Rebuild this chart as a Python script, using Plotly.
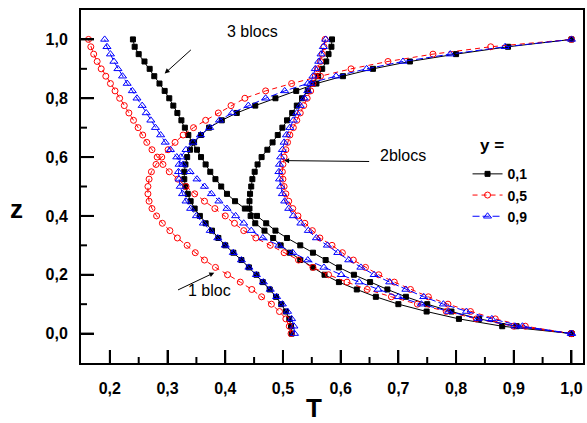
import plotly.graph_objects as go

# ---------------- data ----------------
z = [0.0, 0.025, 0.05, 0.075, 0.1, 0.125, 0.15, 0.175, 0.2, 0.225,
     0.25, 0.275, 0.3, 0.325, 0.35, 0.375, 0.4, 0.425, 0.45, 0.475,
     0.5, 0.525, 0.55, 0.575, 0.6, 0.625, 0.65, 0.675, 0.7, 0.725,
     0.75, 0.775, 0.8, 0.825, 0.85, 0.875, 0.9, 0.925, 0.95, 0.975, 1.0]

# 1 bloc
T_1bloc_y01 = [0.515, 0.514, 0.511, 0.505, 0.497, 0.488, 0.477, 0.465, 0.454, 0.441,
               0.428, 0.414, 0.400, 0.388, 0.377, 0.366, 0.356, 0.347, 0.340, 0.335,
               0.331, 0.329, 0.329, 0.331, 0.334, 0.339, 0.346, 0.358, 0.372, 0.394,
               0.420, 0.452, 0.487, 0.523, 0.558, 0.604, 0.656, 0.720, 0.800, 0.890, 1.000]
T_1bloc_y05 = [0.514, 0.511, 0.505, 0.494, 0.480, 0.463, 0.446, 0.426, 0.404, 0.383,
               0.364, 0.348, 0.334, 0.317, 0.304, 0.291, 0.281, 0.273, 0.268, 0.266,
               0.266, 0.268, 0.272, 0.280, 0.290, 0.301, 0.313, 0.327, 0.345, 0.366,
               0.388, 0.410, 0.434, 0.470, 0.515, 0.565, 0.618, 0.682, 0.760, 0.860, 1.000]
T_1bloc_y09 = [0.520, 0.519, 0.515, 0.508, 0.499, 0.489, 0.478, 0.466, 0.454, 0.441,
               0.428, 0.414, 0.400, 0.387, 0.374, 0.362, 0.350, 0.340, 0.332, 0.326,
               0.322, 0.320, 0.319, 0.320, 0.323, 0.332, 0.344, 0.357, 0.373, 0.390,
               0.412, 0.440, 0.470, 0.503, 0.543, 0.592, 0.645, 0.708, 0.790, 0.885, 1.000]

# 2 blocs
T_2blocs_y01 = [1.000, 0.880, 0.805, 0.749, 0.700, 0.661, 0.628, 0.597, 0.572, 0.552,
                0.530, 0.512, 0.496, 0.483, 0.468, 0.452, 0.444, 0.442, 0.442, 0.443,
                0.445, 0.447, 0.451, 0.456, 0.463, 0.473, 0.482, 0.491, 0.499, 0.507,
                0.516, 0.524, 0.533, 0.543, 0.552, 0.561, 0.568, 0.575, 0.579, 0.584, 0.585]
T_2blocs_y05 = [1.000, 0.920, 0.868, 0.825, 0.786, 0.752, 0.721, 0.693, 0.666, 0.643,
                0.622, 0.603, 0.585, 0.564, 0.551, 0.538, 0.526, 0.517, 0.510, 0.505,
                0.502, 0.500, 0.499, 0.500, 0.502, 0.505, 0.508, 0.512, 0.518, 0.524,
                0.530, 0.536, 0.542, 0.548, 0.552, 0.556, 0.560, 0.565, 0.568, 0.571, 0.573]
T_2blocs_y09 = [1.000, 0.915, 0.862, 0.818, 0.778, 0.744, 0.713, 0.685, 0.658, 0.635,
                0.614, 0.595, 0.577, 0.558, 0.544, 0.531, 0.518, 0.510, 0.503, 0.499,
                0.496, 0.494, 0.493, 0.494, 0.496, 0.499, 0.502, 0.506, 0.512, 0.518,
                0.524, 0.530, 0.537, 0.543, 0.548, 0.552, 0.556, 0.562, 0.566, 0.570, 0.574]

# 3 blocs
T_3blocs_y01 = [1.000, 0.905, 0.840, 0.792, 0.750, 0.713, 0.681, 0.651, 0.623, 0.597,
                0.574, 0.552, 0.530, 0.507, 0.487, 0.471, 0.455, 0.434, 0.417, 0.403,
                0.393, 0.383, 0.374, 0.366, 0.358, 0.351, 0.343, 0.336, 0.330, 0.324,
                0.317, 0.310, 0.303, 0.295, 0.286, 0.277, 0.269, 0.260, 0.250, 0.243, 0.240]
T_3blocs_y05 = [1.000, 0.900, 0.835, 0.783, 0.733, 0.688, 0.646, 0.611, 0.579, 0.552,
                0.527, 0.502, 0.478, 0.453, 0.432, 0.416, 0.400, 0.382, 0.364, 0.347,
                0.332, 0.318, 0.303, 0.292, 0.282, 0.273, 0.264, 0.257, 0.249, 0.241,
                0.233, 0.225, 0.217, 0.209, 0.201, 0.193, 0.185, 0.178, 0.172, 0.167, 0.163]
T_3blocs_y09 = [1.000, 0.902, 0.838, 0.787, 0.740, 0.700, 0.665, 0.632, 0.601, 0.571,
                0.543, 0.517, 0.493, 0.465, 0.445, 0.432, 0.418, 0.403, 0.389, 0.376,
                0.364, 0.351, 0.339, 0.327, 0.316, 0.305, 0.296, 0.288, 0.279, 0.271,
                0.263, 0.256, 0.247, 0.239, 0.230, 0.222, 0.214, 0.207, 0.201, 0.195, 0.191]

series_names = ["0,1", "0,5", "0,9"]

# tick positions
x_major_ticks = [0.2, 0.3, 0.4, 0.5, 0.6, 0.7, 0.8, 0.9, 1.0]
x_minor_ticks = [0.25, 0.35, 0.45, 0.55, 0.65, 0.75, 0.85, 0.95]
y_major_ticks = [0.0, 0.2, 0.4, 0.6, 0.8, 1.0]
y_minor_ticks = [0.1, 0.3, 0.5, 0.7, 0.9]

# ---------------- figure ----------------
FONT = "Liberation Sans, Arial, sans-serif"

styles = [
    dict(color="#000000", dash="solid", symbol="square", size=5),
    dict(color="#ff0000", dash="5px,4px", symbol="circle-open", size=6),
    dict(color="#0000ff", dash="7px,3px", symbol="triangle-up-open", size=7),
]
groups = [
    [T_1bloc_y01, T_2blocs_y01, T_3blocs_y01],
    [T_1bloc_y05, T_2blocs_y05, T_3blocs_y05],
    [T_1bloc_y09, T_2blocs_y09, T_3blocs_y09],
]

fig = go.Figure()
for name, st, curves in zip(series_names, styles, groups):
    xs, ys = [], []
    for c in curves:
        xs += list(c) + [None]
        ys += list(z) + [None]
    fig.add_trace(go.Scatter(
        x=xs, y=ys, name=name, mode="lines+markers",
        line=dict(color=st["color"], width=1, dash=st["dash"]),
        marker=dict(symbol=st["symbol"], size=st["size"], color=st["color"],
                    line=dict(color=st["color"], width=1)),
    ))

fig.update_xaxes(range=[0.15, 1.02], showline=True, linewidth=2, linecolor="black", mirror=True,
                 ticks="inside", ticklen=13, tickwidth=2, tickcolor="black", showgrid=False,
                 zeroline=False, tickvals=x_major_ticks, tickformat=".1f",
                 ticklabelstandoff=10,
                 tickfont=dict(family=FONT, size=16, color="black", weight="bold"))
fig.update_yaxes(range=[-0.1, 1.1], showline=True, linewidth=2, linecolor="black", mirror=True,
                 ticks="inside", ticklen=13, tickwidth=2, tickcolor="black", showgrid=False,
                 zeroline=False, tickvals=y_major_ticks, tickformat=".1f",
                 ticklabelstandoff=8,
                 tickfont=dict(family=FONT, size=16, color="black", weight="bold"))

# inside tick marks drawn as shapes along the bottom and left axes
PLOT_W, PLOT_H = 504.0, 353.0
shapes = []
for t in x_major_ticks:
    shapes.append(dict(type="line", xref="x", yref="paper", x0=t, x1=t, y0=0, y1=13 / PLOT_H,
                       line=dict(color="black", width=2), layer="above"))
for t in x_minor_ticks:
    shapes.append(dict(type="line", xref="x", yref="paper", x0=t, x1=t, y0=0, y1=6 / PLOT_H,
                       line=dict(color="black", width=2), layer="above"))
for t in y_major_ticks:
    shapes.append(dict(type="line", xref="paper", yref="y", x0=0, x1=13 / PLOT_W, y0=t, y1=t,
                       line=dict(color="black", width=2), layer="above"))
for t in y_minor_ticks:
    shapes.append(dict(type="line", xref="paper", yref="y", x0=0, x1=6 / PLOT_W, y0=t, y1=t,
                       line=dict(color="black", width=2), layer="above"))

ann = []
ann.append(dict(text="T", xref="x", yref="paper", x=0.553, y=-0.128, showarrow=False,
                font=dict(family=FONT, size=26, color="black", weight="bold"),
                xanchor="center", yanchor="middle"))
ann.append(dict(text="z", xref="paper", yref="y", x=-0.129, y=0.425, showarrow=False,
                font=dict(family=FONT, size=26, color="black", weight="bold"),
                xanchor="center", yanchor="middle"))
ann.append(dict(text="y =", xref="paper", yref="paper", x=0.819, y=0.615, showarrow=False,
                font=dict(family=FONT, size=17, color="black", weight="bold"),
                xanchor="center", yanchor="middle"))
lab_font = dict(family=FONT, size=16, color="black")
ann.append(dict(text="3 blocs", xref="x", yref="y", x=0.447, y=1.027, showarrow=False,
                font=lab_font, xanchor="center", yanchor="middle"))
ann.append(dict(text="", xref="x", yref="y", x=0.295, y=0.884, axref="x", ayref="y",
                ax=0.343, ay=0.969, showarrow=True, arrowhead=2, arrowsize=1,
                arrowwidth=1, arrowcolor="black", standoff=0))
ann.append(dict(text="2blocs", xref="x", yref="y", x=0.664, y=0.605, showarrow=False,
                font=lab_font, xanchor="left", yanchor="middle"))
ann.append(dict(text="", xref="x", yref="y", x=0.502, y=0.588, axref="x", ayref="y",
                ax=0.652, ay=0.585, showarrow=True, arrowhead=2, arrowsize=1,
                arrowwidth=1, arrowcolor="black", standoff=0))
ann.append(dict(text="1 bloc", xref="x", yref="y", x=0.372, y=0.146, showarrow=False,
                font=lab_font, xanchor="center", yanchor="middle"))
ann.append(dict(text="", xref="x", yref="y", x=0.381, y=0.207, axref="x", ayref="y",
                ax=0.3155, ay=0.146, showarrow=True, arrowhead=2, arrowsize=1,
                arrowwidth=1, arrowcolor="black", standoff=0))

fig.update_layout(
    width=587, height=423,
    margin=dict(l=81, r=2, t=10, b=60),
    paper_bgcolor="white", plot_bgcolor="white",
    separators=",.",
    showlegend=True,
    legend=dict(x=0.770, y=0.58, xanchor="left", yanchor="top",
                bgcolor="rgba(0,0,0,0)", borderwidth=0, tracegroupgap=0,
                font=dict(family=FONT, size=14, color="black", weight="bold")),
    annotations=ann,
    shapes=shapes,
)

fig.write_html("out.html")
